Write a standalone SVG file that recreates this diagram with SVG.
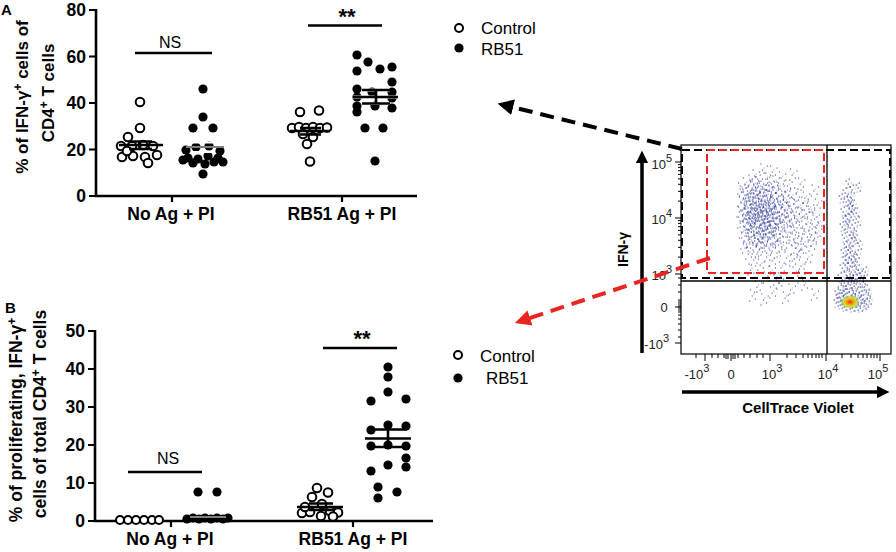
<svg xmlns="http://www.w3.org/2000/svg" width="896" height="552" viewBox="0 0 896 552">
<defs>
<style>
.ax{stroke:#000;stroke-width:2.6;fill:none}
.tk{stroke:#000;stroke-width:2.2;fill:none}
.bar{stroke:#000;stroke-width:2.6;fill:none}
.b{font-family:"Liberation Sans",Arial,sans-serif;font-weight:bold;fill:#000}
.r{font-family:"Liberation Sans",Arial,sans-serif;fill:#000}
.num{font-family:"Liberation Sans",Arial,sans-serif;font-weight:bold;font-size:17.5px;text-anchor:end}
.o{fill:#fff;stroke:#000;stroke-width:2}
.f{fill:#000}
.fl{font-family:"Liberation Sans",Arial,sans-serif;font-size:13px;fill:#222}
.dot{fill:none;stroke-linecap:round;stroke-width:1.1}
</style>
<marker id="hb" viewBox="0 0 10 10" refX="2" refY="5" markerWidth="4" markerHeight="4" orient="auto" markerUnits="strokeWidth"><path d="M0,0 L10,5 L0,10 z" fill="#000"/></marker>
<marker id="hr" viewBox="0 0 10 10" refX="2" refY="5" markerWidth="4" markerHeight="4" orient="auto" markerUnits="strokeWidth"><path d="M0,0 L10,5 L0,10 z" fill="#e8261f"/></marker>
<marker id="ha" viewBox="0 0 10 10" refX="1" refY="5" markerWidth="3.6" markerHeight="3.6" orient="auto" markerUnits="strokeWidth"><path d="M0,0 L10,5 L0,10 z" fill="#000"/></marker>
<radialGradient id="hot" cx="0.5" cy="0.5" r="0.5">
<stop offset="0" stop-color="#e0301e"/>
<stop offset="0.35" stop-color="#f39c1a"/>
<stop offset="0.65" stop-color="#d8e020"/>
<stop offset="1" stop-color="#3aa050" stop-opacity="0"/>
</radialGradient>
<clipPath id="plotclip"><rect x="682" y="146" width="208" height="207"/></clipPath>
<path id="lc" class="dot" d="M748 170h.5M760 172h.5M738 176h.5M771 178h.5M752 179h.5M785 175h.5M733 181h.5M726 184h.5M742 183h.5M756 185h.5M763 182h.5M735 188h.5M748 187h.5M768 188h.5M779 186h.5M795 184h.5M720 189h.5M722 192h.5M729 194h.5M733 191h.5M739 196h.5M744 193h.5M750 195h.5M755 191h.5M759 197h.5M764 193h.5M770 196h.5M777 192h.5M784 197h.5M790 194h.5M801 198h.5M724 198h.5M736 199h.5M747 199h.5M812 191h.5M721 202h.5M726 205h.5M730 201h.5M734 207h.5M738 203h.5M741 209h.5M745 204h.5M749 207h.5M752 202h.5M756 206h.5M760 203h.5M763 209h.5M768 204h.5M772 207h.5M776 202h.5M781 208h.5M787 204h.5M793 207h.5M799 203h.5M806 209h.5M816 205h.5M727 209h.5M743 201h.5M758 209h.5M719 212h.5M723 216h.5M728 213h.5M731 218h.5M735 214h.5M739 211h.5M742 217h.5M746 213h.5M750 219h.5M753 214h.5M757 211h.5M761 216h.5M765 213h.5M769 219h.5M773 214h.5M778 217h.5M783 212h.5M788 218h.5M794 214h.5M800 216h.5M807 212h.5M813 219h.5M733 219h.5M747 216h.5M755 218h.5M737 216h.5M720 223h.5M725 227h.5M729 222h.5M733 228h.5M737 224h.5M741 221h.5M744 227h.5M748 223h.5M752 229h.5M756 225h.5M760 221h.5M764 227h.5M768 224h.5M773 229h.5M778 223h.5M784 227h.5M790 222h.5M796 228h.5M803 224h.5M810 229h.5M818 223h.5M740 229h.5M750 226h.5M758 228h.5M722 233h.5M728 236h.5M734 232h.5M739 238h.5M745 234h.5M751 237h.5M757 232h.5M763 238h.5M770 234h.5M777 237h.5M785 232h.5M792 238h.5M800 234h.5M808 237h.5M816 233h.5M748 231h.5M731 239h.5M724 244h.5M732 242h.5M740 247h.5M749 243h.5M756 248h.5M764 242h.5M772 247h.5M781 243h.5M790 248h.5M799 244h.5M809 246h.5M744 249h.5M760 245h.5M730 254h.5M742 252h.5M753 257h.5M766 253h.5M778 258h.5M791 254h.5M804 259h.5M737 260h.5M760 261h.5M785 261h.5M745 265h.5M771 268h.5M796 266h.5M758 272h.5M733 270h.5M788 273h.5M752 278h.5M768 283h.5M741 287h.5M783 290h.5M760 293h.5M800 285h.5M776 298h.5M749 300h.5M812 295h.5M735 296h.5M765 280h.5M795 278h.5M731 197h.5M737 185h.5M746 189h.5M753 196h.5M761 190h.5M766 199h.5M774 200h.5M727 215h.5M733 224h.5M740 214h.5M745 208h.5M751 210h.5M754 222h.5M759 232h.5M766 218h.5M771 222h.5M775 210h.5M782 222h.5M736 243h.5M743 239h.5M754 241h.5M767 240h.5M787 240h.5M795 250h.5M811 241h.5M726 248h.5"/>
<path id="lcore" class="dot" d="M730 198h.5M736 202h.5M741 195h.5M746 210h.5M752 205h.5M733 212h.5M739 220h.5M744 215h.5M749 222h.5M755 208h.5M760 218h.5M735 227h.5M742 233h.5M748 238h.5M754 228h.5M761 235h.5M766 225h.5M728 219h.5M757 200h.5M743 205h.5M737 209h.5M751 216h.5M764 206h.5M731 230h.5M745 242h.5M740 190h.5M753 190h.5M759 212h.5M747 228h.5M725 208h.5"/>
<path id="rc" class="dot" d="M848 184h.5M852 190h.5M845 193h.5M858 188h.5M850 197h.5M841 199h.5M846 202h.5M853 205h.5M849 209h.5M843 212h.5M856 213h.5M851 217h.5M845 221h.5M858 222h.5M848 225h.5M854 228h.5M842 227h.5M850 203h.5M847 232h.5M853 235h.5M844 238h.5M856 240h.5M850 243h.5M846 247h.5M859 246h.5M852 251h.5M843 253h.5M857 255h.5M849 257h.5M855 259h.5M845 260h.5M848 263h.5M854 266h.5M842 268h.5M858 270h.5M851 272h.5M846 275h.5M861 276h.5M855 279h.5M840 278h.5M849 279h.5M865 272h.5M844 283h.5M850 285h.5M856 284h.5M862 287h.5M847 289h.5M853 291h.5M840 290h.5M859 292h.5M866 290h.5M845 294h.5M851 295h.5M838 298h.5M842 301h.5M846 298h.5M854 299h.5M858 303h.5M862 300h.5M866 304h.5M840 305h.5M844 307h.5M848 306h.5M852 308h.5M856 307h.5M860 308h.5M864 306h.5M843 296h.5M855 296h.5M861 296h.5M836 303h.5M869 301h.5M851 211h.5M847 219h.5M852 238h.5M848 250h.5M853 262h.5M847 268h.5M852 280h.5M857 275h.5M843 286h.5M863 281h.5M868 295h.5M837 294h.5"/>
</defs>
<rect width="896" height="552" fill="#fff"/>

<!-- Panel A -->
<g id="panelA">
<text class="b" x="1" y="15" font-size="15">A</text>
<path class="ax" d="M96,9 V196 M94.7,196 H417"/>
<path class="tk" d="M89,10 H96 M89,56.5 H96 M89,103 H96 M89,149.5 H96 M89,196 H96 M172,196 V202 M342,196 V202"/>
<text class="num" x="86" y="16">80</text>
<text class="num" x="86" y="62.5">60</text>
<text class="num" x="86" y="109">40</text>
<text class="num" x="86" y="155.5">20</text>
<text class="num" x="86" y="202">0</text>
<text class="b" font-size="17" transform="translate(28,97) rotate(-90)" text-anchor="middle">% of  IFN-γ<tspan dy="-6" font-size="12">+</tspan><tspan dy="6"> cells of</tspan></text>
<text class="b" font-size="17" transform="translate(54,93) rotate(-90)" text-anchor="middle">CD4<tspan dy="-6" font-size="12">+</tspan><tspan dy="6"> T cells</tspan></text>
<text class="b" font-size="17.5" x="171" y="220" text-anchor="middle">No Ag + PI</text>
<text class="b" font-size="17.5" x="342" y="220" text-anchor="middle">RB51 Ag + PI</text>
<path class="bar" d="M135,53 H212"/>
<text class="r" font-size="16" x="170" y="48" text-anchor="middle">NS</text>
<path class="bar" d="M308,25.5 H382"/>
<text class="b" font-size="22" x="347" y="24" text-anchor="middle">**</text>
<g>
<circle class="o" cx="140" cy="102" r="4.3"/><circle class="o" cx="140" cy="128" r="4.3"/><circle class="o" cx="128" cy="137" r="4.3"/>
<circle class="o" cx="121" cy="146" r="4.3"/><circle class="o" cx="132" cy="146" r="4.3"/><circle class="o" cx="143" cy="145" r="4.3"/><circle class="o" cx="153" cy="146" r="4.3"/>
<circle class="o" cx="122" cy="157" r="4.3"/><circle class="o" cx="133" cy="156" r="4.3"/><circle class="o" cx="145" cy="157" r="4.3"/><circle class="o" cx="157" cy="155" r="4.3"/><circle class="o" cx="148" cy="163" r="4.3"/><circle class="o" cx="127" cy="151" r="4.3"/>
<path class="bar" d="M119,145 H163 M129,141.5 H152 M129,149 H152 M140,141.5 V149"/>
</g>
<g>
<circle class="f" cx="203" cy="89" r="4.6"/><circle class="f" cx="203" cy="117" r="4.6"/><circle class="f" cx="193" cy="128" r="4.6"/><circle class="f" cx="213" cy="128" r="4.6"/>
<circle class="f" cx="186" cy="150" r="4.6"/><circle class="f" cx="196" cy="147" r="4.6"/><circle class="f" cx="209" cy="146" r="4.6"/><circle class="f" cx="220" cy="151" r="4.6"/>
<circle class="f" cx="188" cy="158" r="4.6"/><circle class="f" cx="198" cy="159" r="4.6"/><circle class="f" cx="208" cy="156" r="4.6"/><circle class="f" cx="218" cy="158" r="4.6"/>
<circle class="f" cx="193" cy="163" r="4.6"/><circle class="f" cx="205" cy="164" r="4.6"/><circle class="f" cx="214" cy="162" r="4.6"/><circle class="f" cx="203" cy="174" r="4.6"/><circle class="f" cx="183" cy="160" r="4.6"/><circle class="f" cx="223" cy="162" r="4.6"/>
<path d="M186,147 H224 M192,142.5 H215 M192,152 H215" stroke="#fff" stroke-width="2.2" fill="none"/>
<path d="M185,147 H224" stroke="#000" stroke-width="1" fill="none"/>
</g>
<g>
<circle class="o" cx="300" cy="112" r="4.3"/><circle class="o" cx="319" cy="110.5" r="4.3"/>
<circle class="o" cx="292" cy="128" r="4.3"/><circle class="o" cx="299" cy="127" r="4.3"/><circle class="o" cx="306" cy="128" r="4.3"/><circle class="o" cx="313" cy="127" r="4.3"/><circle class="o" cx="320" cy="128" r="4.3"/><circle class="o" cx="327" cy="127.5" r="4.3"/>
<circle class="o" cx="313" cy="137" r="4.3"/><circle class="o" cx="307" cy="144" r="4.3"/><circle class="o" cx="310" cy="161.5" r="4.3"/><circle class="o" cx="303" cy="134" r="4.3"/>
<path class="bar" d="M290,131 H330 M300,128 H321 M300,134.5 H321"/>
</g>
<g>
<circle class="f" cx="357" cy="55" r="4.6"/><circle class="f" cx="368" cy="62" r="4.6"/><circle class="f" cx="357" cy="71" r="4.6"/><circle class="f" cx="380" cy="69" r="4.6"/><circle class="f" cx="392" cy="67" r="4.6"/>
<circle class="f" cx="392" cy="82" r="4.6"/><circle class="f" cx="357" cy="89" r="4.6"/><circle class="f" cx="372" cy="92" r="4.6"/><circle class="f" cx="392" cy="92" r="4.6"/>
<circle class="f" cx="357" cy="97" r="4.6"/><circle class="f" cx="392" cy="98" r="4.6"/><circle class="f" cx="357" cy="106" r="4.6"/><circle class="f" cx="375" cy="106" r="4.6"/><circle class="f" cx="392" cy="108" r="4.6"/><circle class="f" cx="357" cy="112" r="4.6"/>
<circle class="f" cx="365" cy="128" r="4.6"/><circle class="f" cx="383" cy="128" r="4.6"/><circle class="f" cx="375" cy="161" r="4.6"/>
<path d="M353,97 H398 M362,90 H390 M362,103.5 H390" stroke="#fff" stroke-width="3.2" fill="none"/>
<path class="bar" d="M353,97 H398 M362,90 H390 M362,103.5 H390 M376,90 V103.5" stroke-width="2"/>
</g>
</g>

<g id="legendA">
<circle class="o" cx="459" cy="28" r="4"/>
<text class="r" font-size="17" x="481" y="34">Control</text>
<circle class="f" cx="459" cy="48" r="4.6"/>
<text class="r" font-size="17" x="481" y="55">RB51</text>
</g>

<!-- Panel B -->
<g id="panelB">
<text class="b" x="5" y="313" font-size="15">B</text>
<path class="ax" d="M95,330 V521 M93.7,521 H433"/>
<path class="tk" d="M88,331 H95 M88,369 H95 M88,407 H95 M88,445 H95 M88,483 H95 M88,521 H95 M171,521 V527 M353,521 V527"/>
<text class="num" x="85" y="337">50</text>
<text class="num" x="85" y="375">40</text>
<text class="num" x="85" y="413">30</text>
<text class="num" x="85" y="451">20</text>
<text class="num" x="85" y="489">10</text>
<text class="num" x="85" y="527">0</text>
<text class="b" font-size="17.5" transform="translate(22,420) rotate(-90)" text-anchor="middle">% of proliferating, IFN-γ<tspan dy="-6" font-size="12">+</tspan></text>
<text class="b" font-size="17.5" transform="translate(46,414) rotate(-90)" text-anchor="middle">cells of total CD4<tspan dy="-6" font-size="12">+</tspan><tspan dy="6"> T cells</tspan></text>
<text class="b" font-size="17.5" x="170" y="545" text-anchor="middle">No Ag + PI</text>
<text class="b" font-size="17.5" x="353" y="545" text-anchor="middle">RB51 Ag + PI</text>
<path class="bar" d="M128,472 H202"/>
<text class="r" font-size="16" x="168" y="464" text-anchor="middle">NS</text>
<path class="bar" d="M323,348 H397"/>
<text class="b" font-size="22" x="362" y="346" text-anchor="middle">**</text>
<g>
<circle class="o" cx="120" cy="520" r="4"/><circle class="o" cx="128" cy="520" r="4"/><circle class="o" cx="136" cy="520" r="4"/><circle class="o" cx="144" cy="520" r="4"/><circle class="o" cx="152" cy="520" r="4"/><circle class="o" cx="159" cy="520" r="4"/>
</g>
<g>
<circle class="f" cx="198" cy="492" r="4.6"/><circle class="f" cx="217" cy="492" r="4.6"/>
<circle class="f" cx="187" cy="519" r="4.6"/><circle class="f" cx="193" cy="518" r="4.6"/><circle class="f" cx="199" cy="519" r="4.6"/><circle class="f" cx="205" cy="518" r="4.6"/><circle class="f" cx="211" cy="519" r="4.6"/><circle class="f" cx="217" cy="518" r="4.6"/><circle class="f" cx="223" cy="519" r="4.6"/><circle class="f" cx="228" cy="518" r="4.6"/>
<path d="M190,517 H226" stroke="#fff" stroke-width="1" fill="none"/>
</g>
<g>
<circle class="o" cx="317" cy="488" r="4.3"/><circle class="o" cx="328" cy="492.5" r="4.3"/><circle class="o" cx="312" cy="497" r="4.3"/>
<circle class="o" cx="322" cy="504" r="4.3"/><circle class="o" cx="302" cy="513" r="4.3"/><circle class="o" cx="310" cy="512" r="4.3"/><circle class="o" cx="330" cy="511" r="4.3"/><circle class="o" cx="338" cy="512.5" r="4.3"/>
<circle class="o" cx="321" cy="516" r="4.3"/><circle class="o" cx="333" cy="516.5" r="4.3"/><circle class="o" cx="305" cy="507" r="4.3"/>
<path class="bar" d="M297,507 H343 M309,503.5 H333 M309,510 H333" stroke-width="2"/>
</g>
<g>
<circle class="f" cx="388" cy="367" r="4.6"/><circle class="f" cx="388" cy="377" r="4.6"/><circle class="f" cx="388" cy="392" r="4.6"/>
<circle class="f" cx="371" cy="401" r="4.6"/><circle class="f" cx="406" cy="399" r="4.6"/>
<circle class="f" cx="371" cy="430" r="4.6"/><circle class="f" cx="388" cy="425" r="4.6"/><circle class="f" cx="406" cy="426" r="4.6"/>
<circle class="f" cx="371" cy="446" r="4.6"/><circle class="f" cx="388" cy="445" r="4.6"/><circle class="f" cx="406" cy="446" r="4.6"/>
<circle class="f" cx="406" cy="458" r="4.6"/><circle class="f" cx="406" cy="467" r="4.6"/><circle class="f" cx="388" cy="465" r="4.6"/><circle class="f" cx="371" cy="471" r="4.6"/>
<circle class="f" cx="378" cy="487" r="4.6"/><circle class="f" cx="378" cy="498" r="4.6"/><circle class="f" cx="397" cy="492" r="4.6"/>
<path class="bar" d="M365,438.5 H411 M368,429.5 H407 M368,447 H407 M388,429.5 V447" stroke-width="2"/>
</g>
</g>

<g id="legendB">
<circle class="o" cx="458" cy="355" r="4"/>
<text class="r" font-size="17" x="480" y="362">Control</text>
<circle class="f" cx="458" cy="378" r="4.6"/>
<text class="r" font-size="17" x="486" y="384">RB51</text>
</g>

<!-- Flow cytometry plot -->
<g id="flowplot">
<path d="M642,353 V162" stroke="#000" stroke-width="3.5" marker-end="url(#ha)" fill="none"/>
<path d="M682,392 H878" stroke="#000" stroke-width="3.5" marker-end="url(#ha)" fill="none"/>
<text class="b" font-size="14" transform="translate(628,267) rotate(-90)">IFN-γ</text>
<text class="b" font-size="15" x="798" y="413" text-anchor="middle">CellTrace Violet</text>
<g clip-path="url(#plotclip)">
<g transform="translate(760,0) scale(0.8,1) translate(-745,0)">
<g stroke="#2b2f9e">
<use href="#lc"/>
<use href="#lc" transform="translate(4,3)"/>
<use href="#lc" transform="translate(-3,5)"/>
<use href="#lc" transform="translate(6,-4)"/>
<use href="#lc" transform="translate(-2,-6)"/>
<use href="#lcore"/>
<use href="#lcore" transform="translate(3,-4)"/>
<use href="#lcore" transform="translate(-4,3)"/>
<use href="#lcore" transform="translate(5,6)"/>
</g>
<g stroke="#8a93d8"><use href="#lc" transform="translate(2,-2)"/></g>
<g stroke="#3c9f4a"><use href="#lcore" transform="translate(1,1)"/></g>
</g>
<g stroke="#2b2f9e">
<use href="#rc"/>
<use href="#rc" transform="translate(2,3)"/>
<use href="#rc" transform="translate(-2,-3)"/>
<use href="#rc" transform="translate(1,-5)"/>
</g>
<g stroke="#8a93d8"><use href="#rc" transform="translate(-1,4)"/></g>
<g stroke="#3c9f4a"><use href="#rc" transform="translate(3,-1)" opacity="0.5"/></g>
</g>
<ellipse cx="850" cy="302" rx="10" ry="7" fill="url(#hot)"/>
<path d="M827,145 V354 M681,281 H891" stroke="#000" stroke-width="1.3" fill="none"/>
<rect x="682" y="150" width="208" height="128" fill="none" stroke="#000" stroke-width="2" stroke-dasharray="8 4"/>
<rect x="707" y="150" width="117" height="123" fill="none" stroke="#e8261f" stroke-width="2" stroke-dasharray="8 4"/>
<rect x="681" y="145" width="210" height="209" fill="none" stroke="#000" stroke-width="1.2"/>
<path stroke="#000" stroke-width="1" fill="none" d="M675,162H681M675,218H681M675,274H681M675,307H681M675,343H681M678,164.6H681M678,167.4H681M678,170.7H681M678,174.4H681M678,178.9H681M678,184.3H681M678,191.3H681M678,201.1H681M678,220.6H681M678,223.4H681M678,226.7H681M678,230.4H681M678,234.9H681M678,240.3H681M678,247.3H681M678,257.1H681M678,300H681M678,302H681M678,304H681M678,306H681M678,308H681M678,310H681M678,312H681M678,315H681M678,319H681M678,324H681M678,330H681M678,337H681M678,292H681M678,285H681M678,278H681"/>
<path stroke="#000" stroke-width="1" fill="none" d="M705,354V361M731,354V361M770,354V361M826,354V361M880,354V361M787,354V358M796,354V358M803,354V358M808,354V358M812,354V358M816,354V358M819,354V358M822,354V358M842,354V358M851,354V358M858,354V358M863,354V358M867,354V358M871,354V358M874,354V358M877,354V358M696,354V358M712,354V358M718,354V358M724,354V358M726,354V359M728,354V359M733,354V359M735,354V359M738,354V358M744,354V358M750,354V358M757,354V358M763,354V358"/>
<text class="fl" x="672" y="169" text-anchor="end">10<tspan dy="-7" font-size="11">5</tspan></text>
<text class="fl" x="672" y="224" text-anchor="end">10<tspan dy="-7" font-size="11">4</tspan></text>
<text class="fl" x="672" y="280" text-anchor="end">10<tspan dy="-7" font-size="11">3</tspan></text>
<text class="fl" x="664" y="312" text-anchor="middle">0</text>
<text class="fl" x="669" y="349" text-anchor="end">-10<tspan dy="-7" font-size="11">3</tspan></text>
<text class="fl" x="697" y="379" text-anchor="middle">-10<tspan dy="-7" font-size="11">3</tspan></text>
<text class="fl" x="731" y="379" text-anchor="middle">0</text>
<text class="fl" x="772" y="379" text-anchor="middle">10<tspan dy="-7" font-size="11">3</tspan></text>
<text class="fl" x="828" y="379" text-anchor="middle">10<tspan dy="-7" font-size="11">4</tspan></text>
<text class="fl" x="878" y="379" text-anchor="middle">10<tspan dy="-7" font-size="11">5</tspan></text>
</g>

<g id="connectors">
<path d="M682,149 L510,106.5" stroke="#000" stroke-width="4" stroke-dasharray="14 8" fill="none" marker-end="url(#hb)"/>
<path d="M710,258 L527,319" stroke="#e8261f" stroke-width="4" stroke-dasharray="14 8" fill="none" marker-end="url(#hr)"/>
</g>
</svg>
